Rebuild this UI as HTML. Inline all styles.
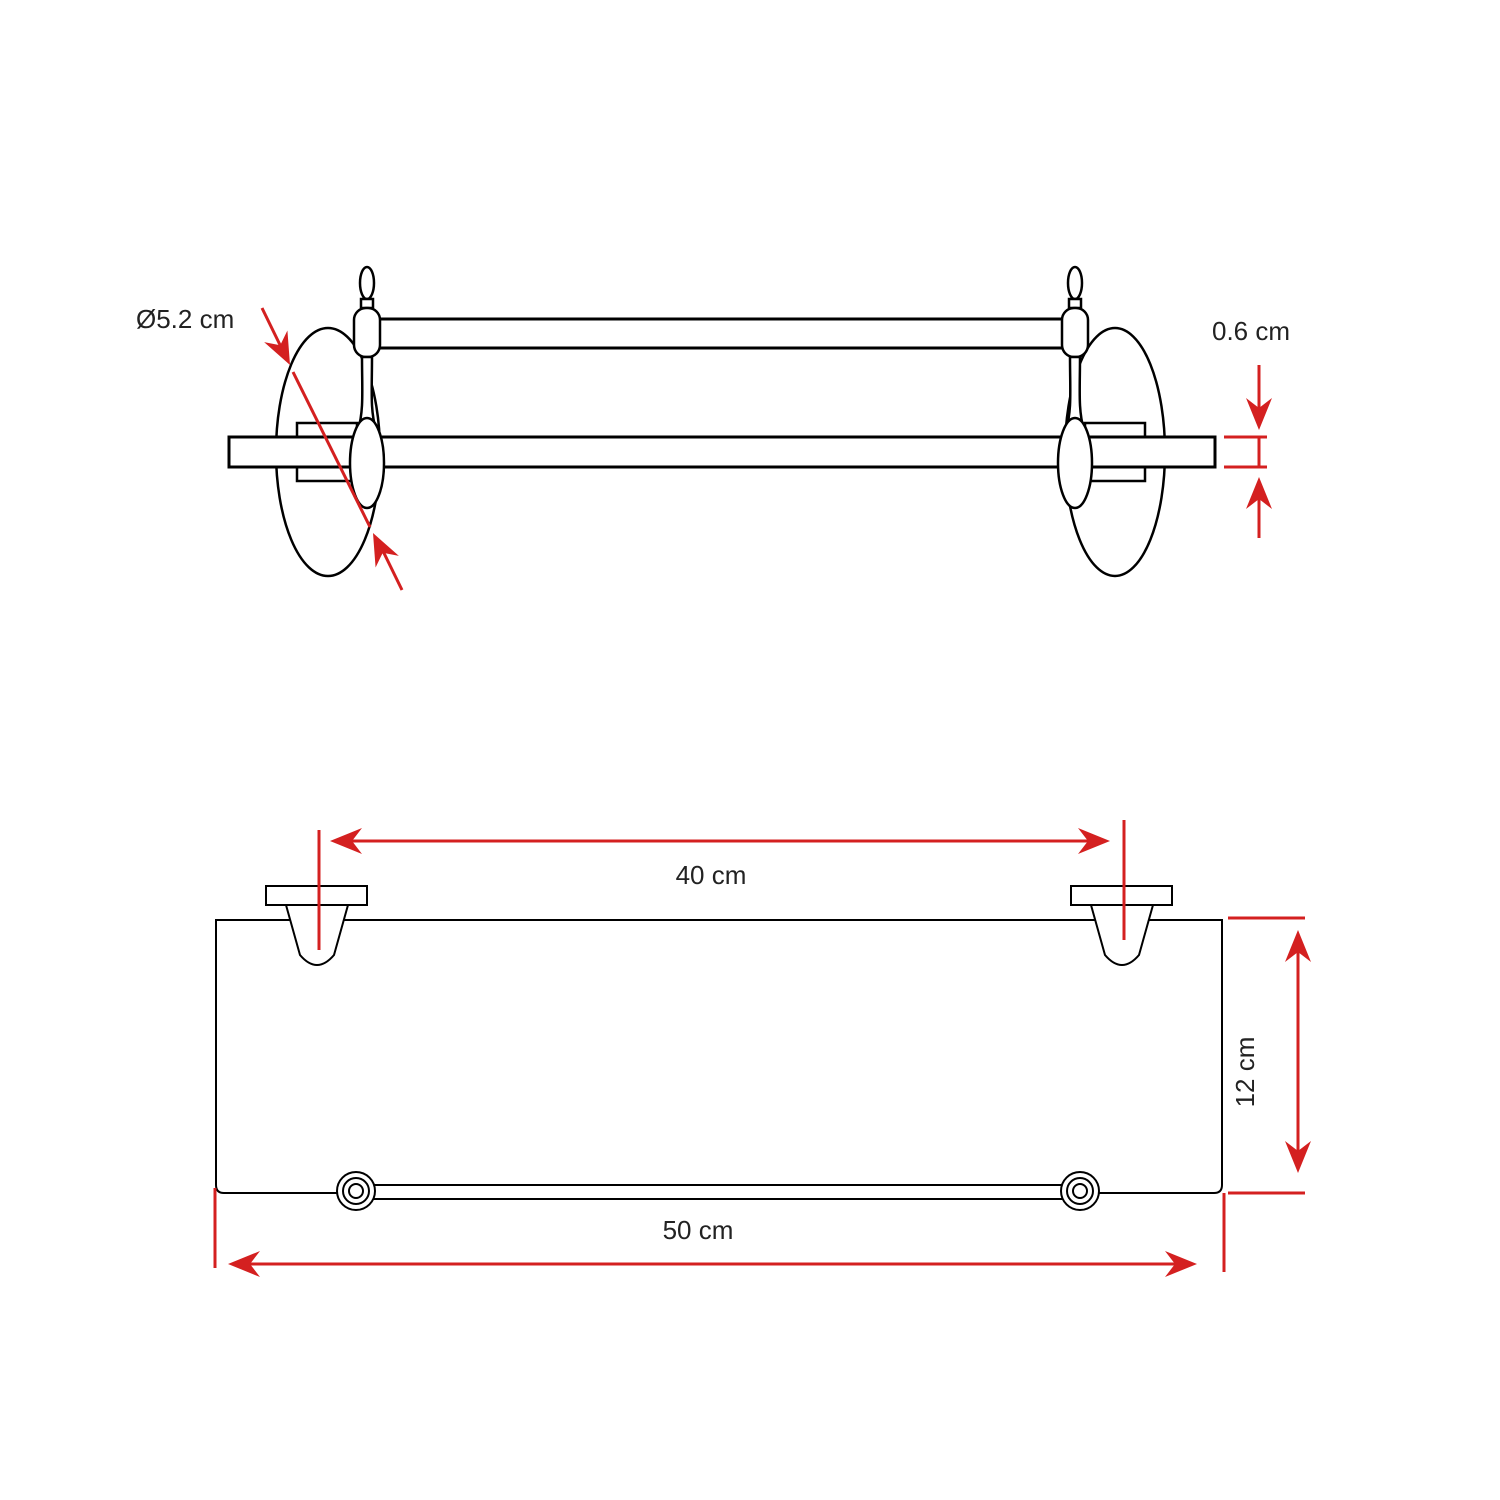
<!DOCTYPE html>
<html><head><meta charset="utf-8"><style>
html,body{margin:0;padding:0;background:#fff;}
svg{display:block;}
text{font-family:"Liberation Sans",sans-serif;font-size:26px;fill:#222;}
</style></head><body>
<svg width="1500" height="1500" viewBox="0 0 1500 1500" xmlns="http://www.w3.org/2000/svg">
<defs>
<polygon id="ah" points="0,0 -32,-13 -22,0 -32,13" fill="#d42020"/>
</defs>
<rect width="1500" height="1500" fill="#fff"/>
<g fill="#fff" stroke="#000" stroke-width="2.5">
<ellipse cx="328" cy="452" rx="52" ry="124"/>
<ellipse cx="1115" cy="452" rx="50" ry="124"/>
<rect x="375" y="319" width="693" height="29" stroke-width="3"/>
<rect x="297" y="423" width="60" height="58"/>
<rect x="1085" y="423" width="60" height="58"/>
<rect x="229" y="437" width="986" height="30" stroke-width="3"/>
<ellipse cx="367" cy="283" rx="7" ry="16"/>
<rect x="361" y="299" width="12" height="9"/>
<rect x="354" y="308" width="26" height="49" rx="12"/>
<path d="M362,357 C362,390 364,410 358,430 L376,430 C370,410 372,390 372,357 Z"/>
<ellipse cx="367" cy="463" rx="17" ry="45"/>
<ellipse cx="1075" cy="283" rx="7" ry="16"/>
<rect x="1069" y="299" width="12" height="9"/>
<rect x="1062" y="308" width="26" height="49" rx="12"/>
<path d="M1070,357 C1070,390 1072,410 1066,430 L1084,430 C1078,410 1080,390 1080,357 Z"/>
<ellipse cx="1075" cy="463" rx="17" ry="45"/>
<path d="M216,920 L1222,920 L1222,1185 Q1222,1193 1214,1193 L224,1193 Q216,1193 216,1185 Z" stroke-width="2"/>
<path d="M286,905 L348,905 L334,955 Q317,975 300,955 Z" stroke-width="2"/>
<rect x="266" y="886" width="101" height="19" stroke-width="2"/>
<path d="M1091,905 L1153,905 L1139,955 Q1122,975 1105,955 Z" stroke-width="2"/>
<rect x="1071" y="886" width="101" height="19" stroke-width="2"/>
<rect x="357" y="1185" width="723" height="14" stroke-width="2"/>
<circle cx="356" cy="1191" r="19" stroke-width="2"/>
<circle cx="356" cy="1191" r="13" stroke-width="2"/>
<circle cx="356" cy="1191" r="7" stroke-width="2"/>
<circle cx="1080" cy="1191" r="19" stroke-width="2"/>
<circle cx="1080" cy="1191" r="13" stroke-width="2"/>
<circle cx="1080" cy="1191" r="7" stroke-width="2"/>
</g>
<g stroke="#d42020" stroke-width="3" fill="none">
<line x1="293" y1="372" x2="370" y2="527"/>
<line x1="262" y1="308" x2="282" y2="349"/>
<line x1="402" y1="590" x2="382" y2="549"/>
<line x1="1259" y1="365" x2="1259" y2="410"/>
<line x1="1259" y1="538" x2="1259" y2="497"/>
<line x1="1224" y1="437" x2="1267" y2="437"/>
<line x1="1224" y1="467" x2="1267" y2="467"/>
<line x1="1259" y1="437" x2="1259" y2="467"/>
<line x1="319" y1="830" x2="319" y2="950"/>
<line x1="1124" y1="820" x2="1124" y2="940"/>
<line x1="350" y1="841" x2="1090" y2="841"/>
<line x1="215" y1="1188" x2="215" y2="1268"/>
<line x1="1224" y1="1193" x2="1224" y2="1272"/>
<line x1="248" y1="1264" x2="1177" y2="1264"/>
<line x1="1228" y1="918" x2="1305" y2="918"/>
<line x1="1228" y1="1193" x2="1305" y2="1193"/>
<line x1="1298" y1="950" x2="1298" y2="1153"/>
</g>
<use href="#ah" transform="translate(290,365) rotate(63.6)"/>
<use href="#ah" transform="translate(373,533) rotate(243.6)"/>
<use href="#ah" transform="translate(1259,430) rotate(90)"/>
<use href="#ah" transform="translate(1259,477) rotate(-90)"/>
<use href="#ah" transform="translate(330,841) rotate(180)"/>
<use href="#ah" transform="translate(1110,841)"/>
<use href="#ah" transform="translate(228,1264) rotate(180)"/>
<use href="#ah" transform="translate(1197,1264)"/>
<use href="#ah" transform="translate(1298,930) rotate(-90)"/>
<use href="#ah" transform="translate(1298,1173) rotate(90)"/>
<text x="136" y="328">Ø5.2 cm</text>
<text x="1212" y="340">0.6 cm</text>
<text x="711" y="884" text-anchor="middle">40 cm</text>
<text x="698" y="1239" text-anchor="middle">50 cm</text>
<text transform="translate(1254,1072) rotate(-90)" text-anchor="middle">12 cm</text>
</svg>
</body></html>
